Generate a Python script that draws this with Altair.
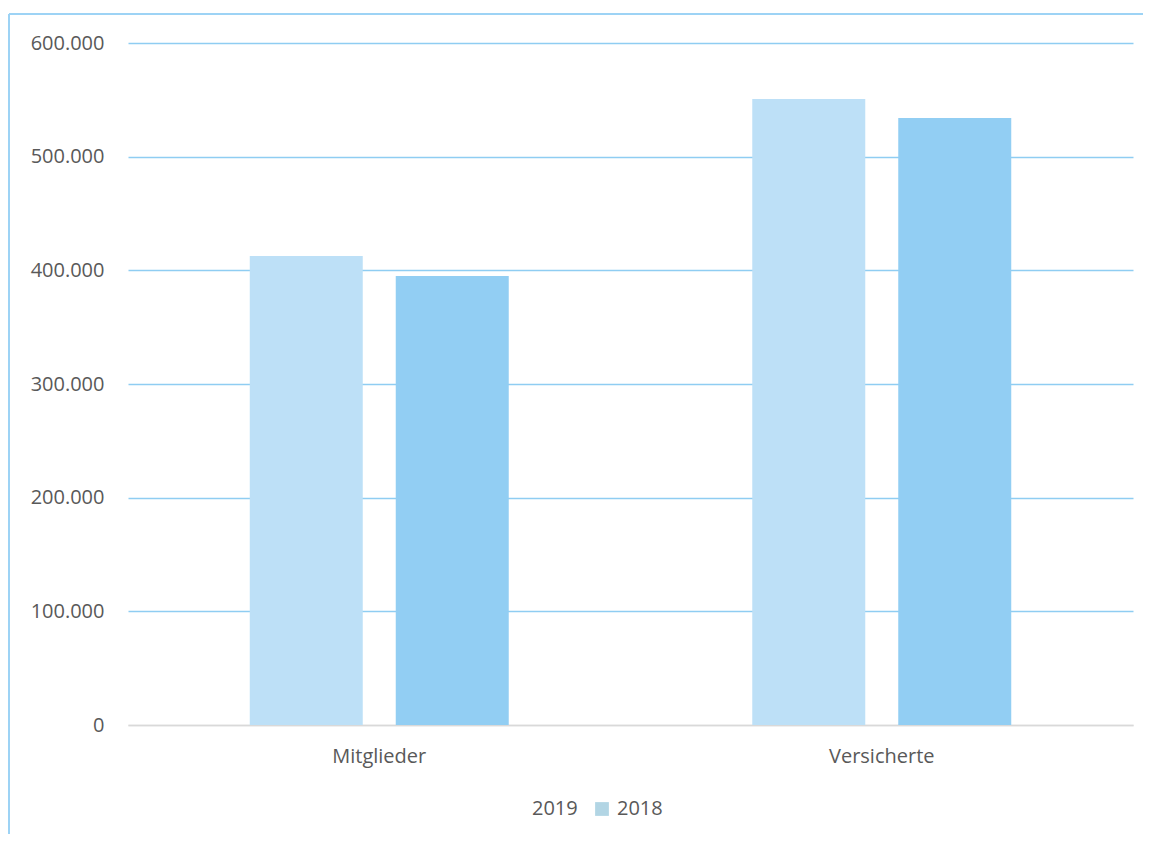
import altair as alt
import pandas as pd

categories = ["Mitglieder", "Mitglieder", "Versicherte", "Versicherte"]
years = ["2019", "2018", "2019", "2018"]
values = [412600, 395000, 550700, 534000]

year_order = ["2019", "2018"]
bar_colors = ["#BDE0F7", "#92CEF3"]
legend_colors = ["#FFFFFF", "#92C3D8"]

df = pd.DataFrame({"Kategorie": categories, "Jahr": years, "Wert": values})

FONT = "Open Sans"
TXT = "#595959"
FS = 20

base = alt.Chart(df)

bars = base.mark_bar().encode(
    x=alt.X("Kategorie:N", sort=["Mitglieder", "Versicherte"],
            scale=alt.Scale(paddingInner=0.4846, paddingOuter=0.2423),
            axis=alt.Axis(title=None, labelAngle=0, labelFontSize=FS, labelColor=TXT,
                          labelFont=FONT, ticks=False, domain=True, domainColor="#D9D9D9",
                          domainWidth=1.5, labelPadding=21)),
    xOffset=alt.XOffset("Jahr:N", sort=year_order,
                        scale=alt.Scale(paddingInner=0.226, paddingOuter=0)),
    y=alt.Y("Wert:Q", scale=alt.Scale(domain=[0, 600000], nice=False),
            axis=alt.Axis(title=None, values=[0, 100000, 200000, 300000, 400000, 500000, 600000],
                          labelExpr="replace(format(datum.value, ','), ',', '.')",
                          labelFontSize=FS, labelColor=TXT, labelFont=FONT,
                          ticks=False, domain=False, labelPadding=24,
                          gridColor={"condition": {"test": "datum.value === 0", "value": "#D9D9D9"},
                                     "value": "#8FCDF2"},
                          gridWidth=1.5)),
    color=alt.Color("Jahr:N", sort=year_order,
                    scale=alt.Scale(domain=year_order, range=bar_colors), legend=None),
)

legend_layer = base.mark_square().encode(
    fill=alt.Fill("Jahr:N", sort=year_order,
                  scale=alt.Scale(domain=year_order, range=legend_colors),
                  legend=alt.Legend(title=None, orient="none", direction="horizontal",
                                    legendX=379, legendY=756, labelFontSize=FS,
                                    labelColor=TXT, labelFont=FONT, symbolType="square",
                                    symbolSize=190, symbolStrokeWidth=0, columnPadding=14,
                                    labelOffset=5)),
).transform_filter("false")

border_top = alt.Chart(df).mark_rule(color="#9DD3F5", strokeWidth=2).encode(
    x=alt.value(-119), x2=alt.value(1025), y=alt.value(-29))
border_left = alt.Chart(df).mark_rule(color="#9DD3F5", strokeWidth=2).encode(
    x=alt.value(-119), y=alt.value(-29), y2=alt.value(805))

chart = alt.layer(bars, legend_layer, border_top, border_left).resolve_scale(
    color="independent", fill="independent"
).properties(
    width=1005, height=682,
    padding={"left": 120, "top": 35, "right": 10, "bottom": 109},
    autosize=alt.AutoSizeParams(type="none"),
).configure_view(stroke=None)

chart.save("out.html", embed_options={"renderer": "svg", "actions": False})
